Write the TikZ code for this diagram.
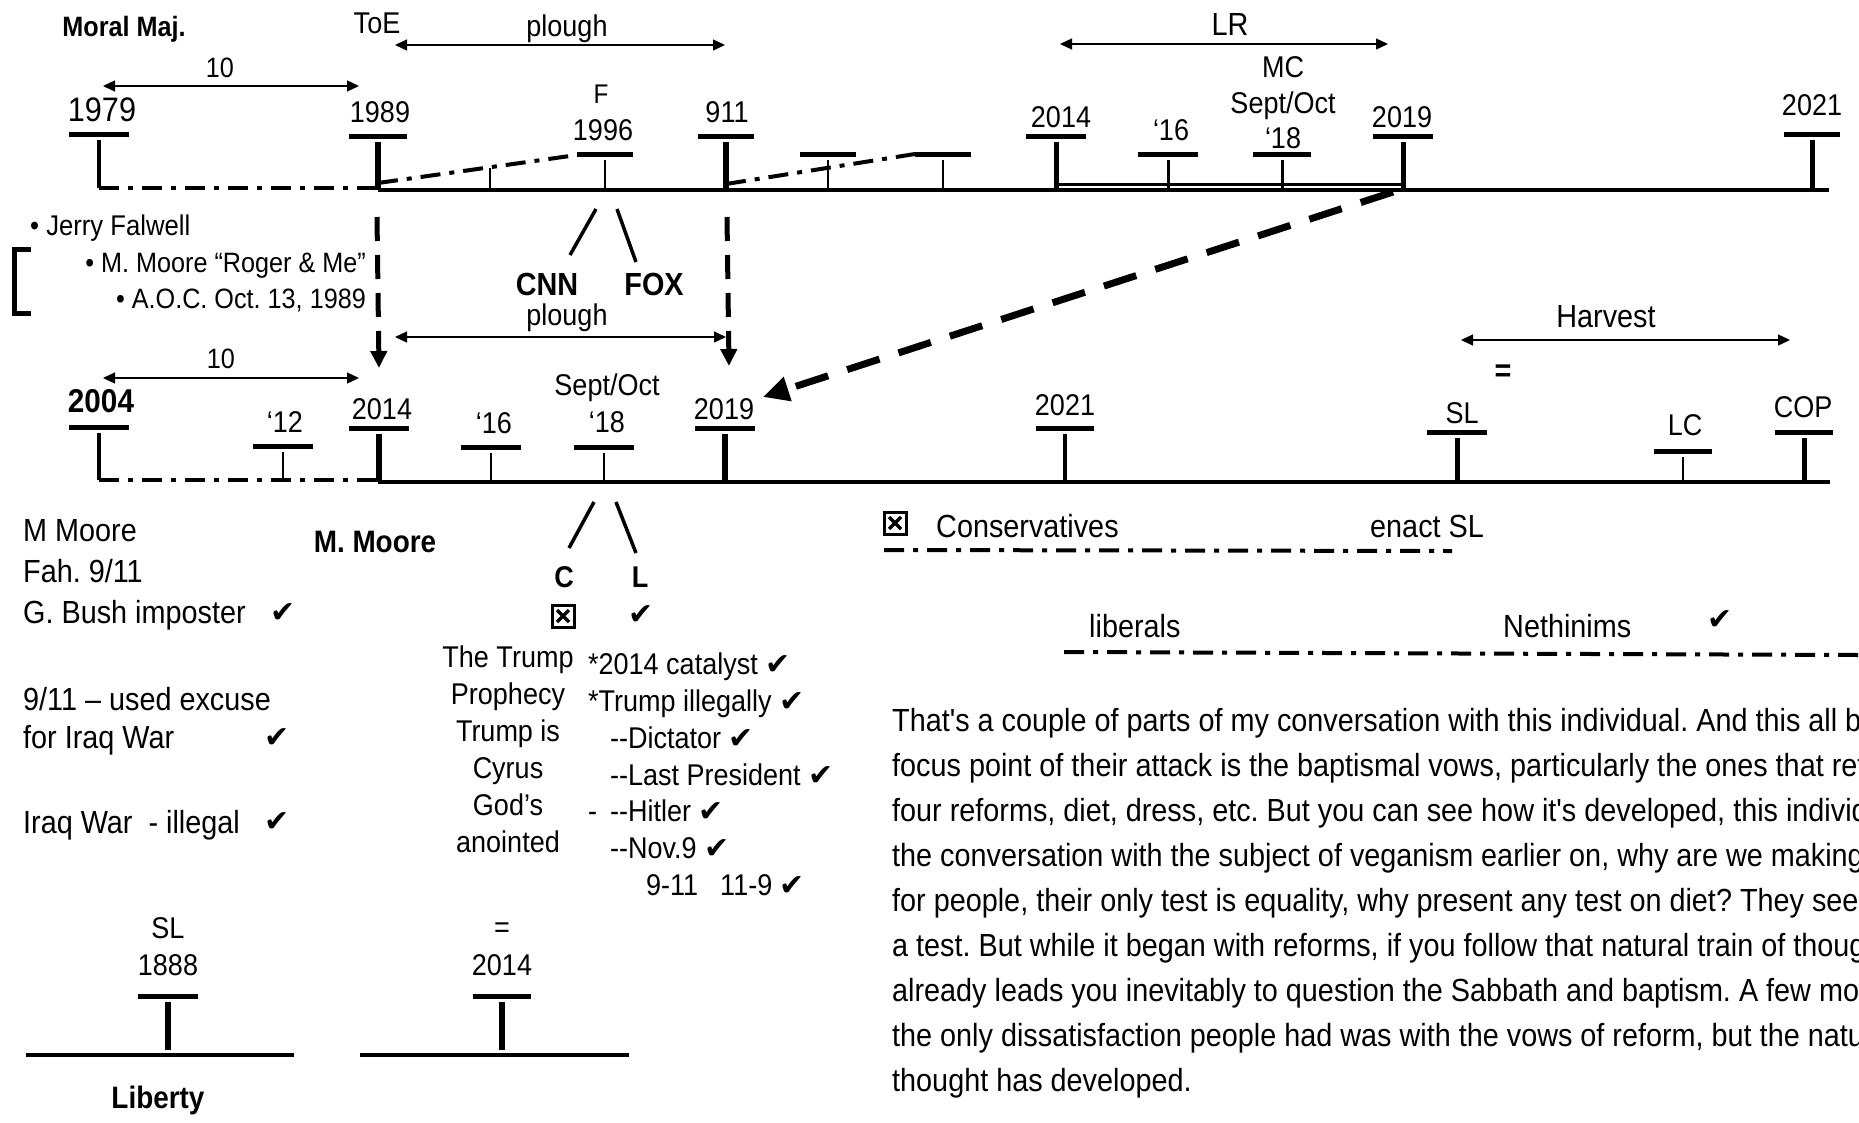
\documentclass[tikz,border=0pt]{standalone}
\usepackage{fontspec}
\setmainfont[FakeStretch=0.9,Ligatures=TeXOff]{Liberation Sans}
\newfontfamily\symfont{DejaVu Sans}
\usetikzlibrary{arrows.meta}
\frenchspacing

\newcommand\fsz[2]{\fontsize{#1pt}{#2pt}\selectfont}
\newcommand\ck{{\symfont\char"2714}}
% marker: x, bar y, base y, half width, stem width
\newcommand\tbar[5]{%
  \draw[line width=5pt] (#1-#4,#2) -- (#1+#4,#2);
  \draw[line width=#5] (#1,#2+6) -- (#1,#3);}

\begin{document}
\begin{tikzpicture}[x=1pt,y=-1pt,
    lbl/.style={font=\fsz{30}{37},inner sep=0pt},
    blbl/.style={font=\fsz{30}{37}\bfseries,inner sep=0pt},
    big/.style={font=\fsz{32}{38},inner sep=0pt},
    xmark/.style={draw,line width=3pt,minimum size=22pt,inner sep=0pt,
      path picture={\draw[line width=3.5pt]
        ([shift={(5pt,5pt)}]path picture bounding box.south west) --
        ([shift={(-5pt,-5pt)}]path picture bounding box.north east)
        ([shift={(5pt,-5pt)}]path picture bounding box.north west) --
        ([shift={(-5pt,5pt)}]path picture bounding box.south east);}},
    span/.style={{Triangle[length=12pt,width=11pt]}-{Triangle[length=12pt,width=11pt]},line width=1.3pt},
    dashdot/.style={line width=4pt,dash pattern=on 20pt off 9pt on 5pt off 9pt},
    drop/.style={-{Triangle[length=17pt,width=16pt]},line width=5pt,dash pattern=on 24pt off 14pt},
    tline/.style={line width=4pt}]
\useasboundingbox (0,0) rectangle (1859,1122);

% upper time line
\draw[dashdot] (99,188) -- (378,188);
\draw[tline] (378,190) -- (1829,190);
\draw[line width=3pt] (1056,184) -- (1403,184);
\tbar{99}{134}{188}{30}{4pt}
\tbar{378}{136}{190}{29}{6pt}
\draw[line width=2.5pt] (490,168) -- (490,190);
\tbar{605}{154}{190}{28}{2.5pt}
\tbar{726}{136}{190}{28}{6pt}
\tbar{828}{154}{190}{28}{2.5pt}
\tbar{943}{154}{190}{28}{2.5pt}
\tbar{1056}{136}{190}{30}{5pt}
\tbar{1168}{154}{190}{30}{3pt}
\tbar{1282}{154}{190}{29}{3pt}
\tbar{1403}{136}{190}{30}{5pt}
\tbar{1812}{134}{190}{28}{5pt}
\draw[dashdot] (378,183) -- (577,155);
\draw[dashdot] (726,184) -- (915,154);

\node[blbl,font=\fsz{28}{34}\bfseries,anchor=base] (moral) at (124,36) {Moral Maj.};
\node[lbl,anchor=base] (toe) at (377,33) {ToE};
\node[lbl,anchor=base] (plough1) at (567,36) {plough};
\coordinate (pl1a) at (395,45);
\coordinate (pl1b) at (725,45);
\draw[span] (pl1a) -- (pl1b);
\node[lbl,font=\fsz{28}{34},anchor=base] (ten1) at (220,77) {10};
\coordinate (ten1a) at (103,86);
\coordinate (ten1b) at (359,86);
\draw[span] (ten1a) -- (ten1b);
\node[lbl,font=\fsz{34}{40},anchor=base] (y1979) at (102,121) {1979};
\node[lbl,anchor=base] (y1989) at (380,122) {1989};
\node[lbl,font=\fsz{27}{32},anchor=base] (f) at (601,103) {F};
\node[lbl,anchor=base] (y1996) at (603,140) {1996};
\node[lbl,anchor=base] (y911) at (727,122) {911};
\node[big,anchor=base] (lr) at (1230,35) {LR};
\coordinate (lra) at (1060,44);
\coordinate (lrb) at (1388,44);
\draw[span] (lra) -- (lrb);
\node[lbl,anchor=base] (mc) at (1283,77) {MC};
\node[lbl,anchor=base] (septa) at (1283,113) {Sept/Oct};
\node[lbl,anchor=base] (q18a) at (1283,148) {‘18};
\node[lbl,anchor=base] (y2014a) at (1061,127) {2014};
\node[lbl,anchor=base] (q16a) at (1171,140) {‘16};
\node[lbl,anchor=base] (y2019a) at (1402,127) {2019};
\node[lbl,anchor=base] (y2021a) at (1812,115) {2021};

% notes under 1989
\node[lbl,font=\fsz{28.5}{34},anchor=base west] (jerry) at (30,235) {• Jerry Falwell};
\node[lbl,font=\fsz{28}{34},anchor=base east] (roger) at (366,272) {• M. Moore “Roger \& Me”};
\node[lbl,font=\fsz{28}{34},anchor=base east] (aoc) at (366,308) {• A.O.C. Oct. 13, 1989};
\draw[line width=5pt] (31,249) -- (14,249) -- (14,313) -- (31,313);

% F splits
\draw[line width=3.5pt] (596,209) -- (570,255);
\draw[line width=3.5pt] (617,209) -- (636,262);
\node[blbl,font=\fsz{32}{38}\bfseries,anchor=base] (cnn) at (547,295) {CNN};
\node[blbl,font=\fsz{32}{38}\bfseries,anchor=base] (fox) at (654,295) {FOX};

% links between the lines
\coordinate (d89) at (377,217);
\coordinate (d14) at (379,368);
\coordinate (d911) at (727,217);
\coordinate (d19) at (729,366);
\draw[drop] (d89) -- (d14);
\draw[drop] (d911) -- (d19);
\coordinate (u19) at (1393,192);
\coordinate (l19) at (763,397);
\draw[-{Triangle[length=26pt,width=24pt]},line width=7pt,dash pattern=on 34pt off 20pt] (u19) -- (l19);

\node[lbl,anchor=base] (plough2) at (567,325) {plough};
\coordinate (pl2a) at (395,337);
\coordinate (pl2b) at (726,337);
\draw[span] (pl2a) -- (pl2b);
\node[lbl,font=\fsz{28}{34},anchor=base] (ten2) at (221,368) {10};
\coordinate (ten2a) at (103,378);
\coordinate (ten2b) at (359,378);
\draw[span] (ten2a) -- (ten2b);

% lower time line
\draw[dashdot] (99,480) -- (378,480);
\draw[tline] (378,482) -- (1830,482);
\tbar{99}{427}{480}{30}{4pt}
\tbar{283}{446}{480}{30}{2.5pt}
\tbar{379}{428}{482}{30}{6pt}
\tbar{491}{447}{482}{30}{2.5pt}
\tbar{604}{447}{482}{30}{2.5pt}
\tbar{725}{428}{482}{30}{6pt}
\tbar{1065}{428}{482}{29}{4pt}
\tbar{1457}{432}{482}{30}{5pt}
\tbar{1683}{451}{482}{29}{2.5pt}
\tbar{1804}{432}{482}{29}{5pt}

\node[blbl,font=\fsz{33}{40}\bfseries,anchor=base] (y2004) at (101,412) {2004};
\node[lbl,anchor=base] (q12) at (285,432) {‘12};
\node[lbl,anchor=base] (y2014b) at (382,419) {2014};
\node[lbl,anchor=base] (q16b) at (494,433) {‘16};
\node[lbl,anchor=base] (septb) at (607,395) {Sept/Oct};
\node[lbl,anchor=base] (q18b) at (607,432) {‘18};
\node[lbl,anchor=base] (y2019b) at (724,419) {2019};
\node[lbl,anchor=base] (y2021b) at (1065,415) {2021};
\node[lbl,anchor=base] (sl) at (1462,423) {SL};
\node[lbl,anchor=base] (lc) at (1685,435) {LC};
\node[lbl,anchor=base] (cop) at (1803,417) {COP};
\node[blbl,font=\fsz{32}{38}\bfseries] (eqa) at (1503,373) {=};
\node[big,anchor=base] (harvest) at (1606,327) {Harvest};
\coordinate (hva) at (1461,340);
\coordinate (hvb) at (1790,340);
\draw[span] (hva) -- (hvb);

% Moore column
\node[big,anchor=base west] (mm) at (23,541) {M Moore};
\node[big,anchor=base west] (fah) at (23,582) {Fah. 9/11};
\node[big,anchor=base west] (bush) at (23,623) {G. Bush imposter};
\node[lbl] (ckbush) at (283,613) {\ck};
\node[big,anchor=base west] (excuse) at (23,710) {9/11 – used excuse};
\node[big,anchor=base west] (forwar) at (23,748) {for Iraq War};
\node[lbl] (ckwar) at (277,738) {\ck};
\node[big,anchor=base west] (illegal) at (23,833) {Iraq War\hspace*{8pt} - illegal};
\node[lbl] (ckill) at (277,822) {\ck};
\node[blbl,font=\fsz{31}{37}\bfseries,anchor=base] (mmoore) at (375,552) {M. Moore};

% C and L
\draw[line width=3.5pt] (594,502) -- (569,548);
\draw[line width=3.5pt] (616,502) -- (636,553);
\node[blbl,anchor=base] (c) at (564,587) {C};
\node[blbl,anchor=base] (l) at (640,587) {L};
\node[xmark] (xc) at (563,616) {};
\node[lbl] (ckl) at (641,615) {\ck};
\node[lbl,align=center,anchor=north] (trump) at (508,646)
  {The Trump\\Prophecy\\Trump is\\Cyrus\\God’s\\anointed};
\node[lbl,font=\fsz{30}{36.7},align=left,anchor=north west] (libs) at (588,653)
  {*2014 catalyst \ck\\
   *Trump illegally \ck\\
   \hspace*{22pt}--Dictator \ck\\
   \hspace*{22pt}--Last President \ck\\
   -\hspace*{13pt}--Hitler \ck\\
   \hspace*{22pt}--Nov.9 \ck\\
   \hspace*{58pt}9-11\hspace*{22pt}11-9 \ck};

% small lines
\node[lbl,anchor=base] (slb) at (168,938) {SL};
\node[lbl,anchor=base] (y1888) at (168,975) {1888};
\tbar{168}{996}{1050}{30}{6pt}
\draw[tline] (26,1055) -- (294,1055);
\node[blbl,font=\fsz{31}{37}\bfseries,anchor=base] (liberty) at (158,1108) {Liberty};
\node[lbl] (eqb) at (502,930) {=};
\node[lbl,anchor=base] (y2014c) at (502,975) {2014};
\tbar{502}{996}{1050}{29}{6pt}
\draw[tline] (360,1055) -- (629,1055);

% sides
\node[xmark] (xcons) at (895,523) {};
\node[big,anchor=base west] (cons) at (936,537) {Conservatives};
\node[big,anchor=base west] (enact) at (1370,537) {enact SL};
\draw[dashdot] (884,550) -- (1452,551);
\node[big,anchor=base west] (liberals) at (1089,637) {liberals};
\node[big,anchor=base west] (neth) at (1503,637) {Nethinims};
\node[lbl] (ckneth) at (1720,620) {\ck};
\draw[dashdot] (1064,652) -- (1859,655);

\node[lbl,font=\fsz{32}{45},align=left,anchor=north west] (talk) at (892,708)
  {That's a couple of parts of my conversation with this individual. And this all b\\
   focus point of their attack is the baptismal vows, particularly the ones that ref\\
   four reforms, diet, dress, etc. But you can see how it's developed, this individ\\
   the conversation with the subject of veganism earlier on, why are we making\\
   for people, their only test is equality, why present any test on diet? They see\\
   a test. But while it began with reforms, if you follow that natural train of thoug\\
   already leads you inevitably to question the Sabbath and baptism. A few mor\\
   the only dissatisfaction people had was with the vows of reform, but the natu\\
   thought has developed.};
\end{tikzpicture}
\end{document}
